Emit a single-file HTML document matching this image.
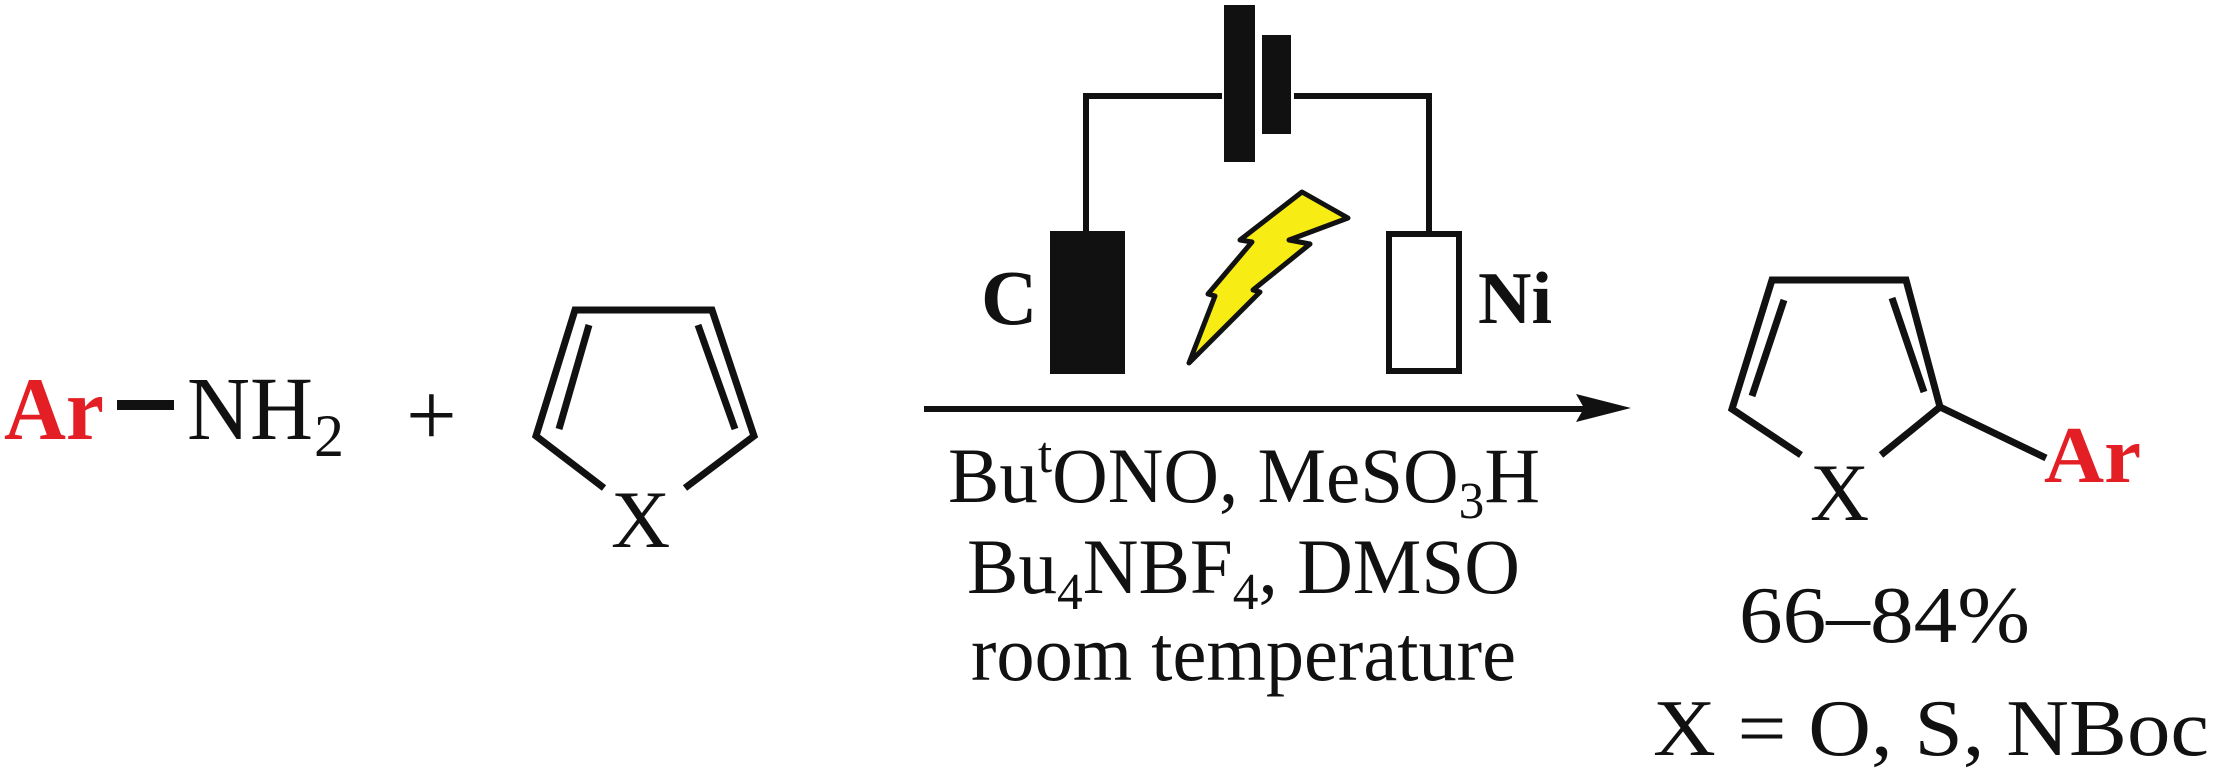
<!DOCTYPE html>
<html><head><meta charset="utf-8"><style>
html,body{margin:0;padding:0;background:#fff;}
svg{display:block;}
text{font-family:"Liberation Serif",serif;}
</style></head><body>
<svg width="2213" height="773" viewBox="0 0 2213 773" xmlns="http://www.w3.org/2000/svg">
<!-- Reactants -->
<text x="4" y="439" font-size="89" font-weight="bold" fill="#e31e24" textLength="100" lengthAdjust="spacingAndGlyphs">Ar</text>
<rect x="117" y="400" width="57" height="10" fill="#111"/>
<text x="187" y="439" font-size="90" fill="#111" textLength="126" lengthAdjust="spacingAndGlyphs">NH</text>
<text x="314" y="456" font-size="60" fill="#111">2</text>
<text x="406" y="445" font-size="90" fill="#111">+</text>

<g stroke="#111" stroke-width="7" fill="none" stroke-linejoin="miter">
  <polyline points="604,488 536,436 575,310 712,310 754,436 685,488"/>
  <line x1="589" y1="325" x2="559" y2="429"/>
  <line x1="698" y1="325" x2="735" y2="429"/>
</g>
<text x="611" y="547" font-size="82" fill="#111">X</text>

<!-- Circuit -->
<g stroke="#111" stroke-width="6" fill="none">
  <polyline points="1086,231 1086,96 1222,96"/>
  <polyline points="1294,96 1429,96 1429,231"/>
</g>
<rect x="1224" y="5" width="31" height="157" fill="#111"/>
<rect x="1262" y="35" width="29" height="99" fill="#111"/>
<rect x="1050" y="231" width="75" height="143" fill="#111"/>
<rect x="1389" y="234" width="70" height="137" fill="#fff" stroke="#111" stroke-width="6"/>
<text x="981" y="324" font-size="78" font-weight="bold" fill="#111">C</text>
<text x="1478" y="323" font-size="74" font-weight="bold" fill="#111">Ni</text>
<polygon points="1302,192 1348,218 1289,240 1310,244 1253,290 1260,292 1189,363 1215,296 1208,294 1252,242 1240,240" fill="#f7ec13" stroke="#111" stroke-width="5" stroke-linejoin="round"/>

<!-- Arrow -->
<line x1="924" y1="409" x2="1585" y2="409" stroke="#111" stroke-width="6"/>
<polygon points="1631,408 1576,394 1584,408 1576,422" fill="#111"/>

<!-- Conditions -->
<text x="948" y="502" font-size="78" fill="#111" textLength="592" lengthAdjust="spacingAndGlyphs">Bu<tspan dy="-30" font-size="52">t</tspan><tspan dy="30">ONO, MeSO</tspan><tspan dy="16" font-size="52">3</tspan><tspan dy="-16">H</tspan></text>
<text x="967" y="593" font-size="78" fill="#111" textLength="553" lengthAdjust="spacingAndGlyphs">Bu<tspan dy="16" font-size="52">4</tspan><tspan dy="-16">NBF</tspan><tspan dy="16" font-size="52">4</tspan><tspan dy="-16">, DMSO</tspan></text>
<text x="971" y="680" font-size="78" fill="#111" textLength="545" lengthAdjust="spacingAndGlyphs">room temperature</text>

<!-- Product -->
<g stroke="#111" stroke-width="7" fill="none" stroke-linejoin="miter">
  <polyline points="1801,455 1732,409 1772,280 1906,280 1940,407 1881,455"/>
  <line x1="1784" y1="300" x2="1752" y2="396"/>
  <line x1="1892" y1="298" x2="1924" y2="392"/>
  <line x1="1940" y1="407" x2="2046" y2="458"/>
</g>
<text x="1810" y="520" font-size="82" fill="#111">X</text>
<text x="2044" y="482" font-size="80" font-weight="bold" fill="#e31e24" textLength="97" lengthAdjust="spacingAndGlyphs">Ar</text>
<text x="1739" y="642" font-size="80" fill="#111" textLength="291" lengthAdjust="spacingAndGlyphs">66–84%</text>
<text x="1653" y="755" font-size="80" fill="#111" textLength="556" lengthAdjust="spacingAndGlyphs">X = O, S, NBoc</text>
</svg>
</body></html>
